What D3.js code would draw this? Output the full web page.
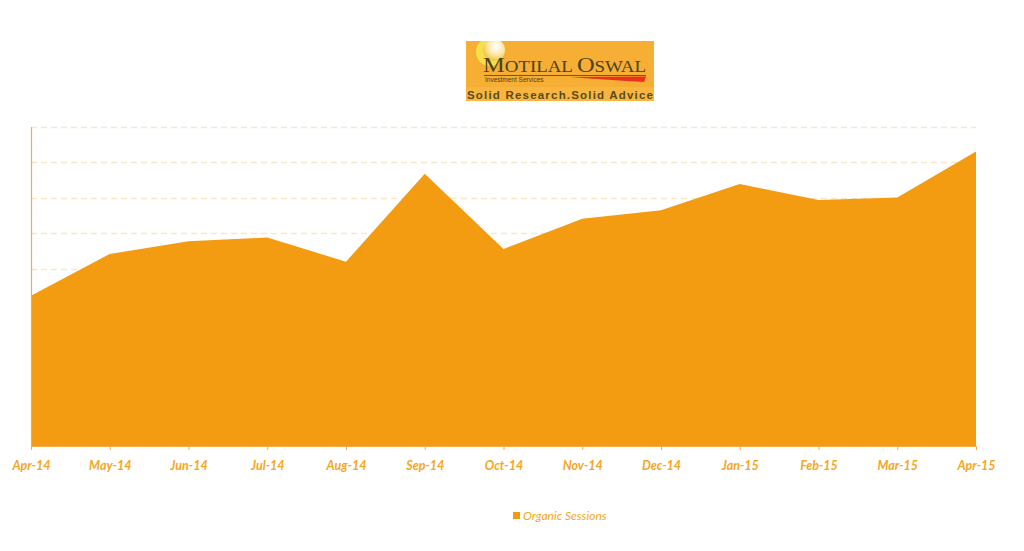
<!DOCTYPE html>
<html>
<head>
<meta charset="utf-8">
<script src="https://cdn.jsdelivr.net/npm/d3@7"></script>
<style>
  html, body { margin: 0; padding: 0; background: #ffffff; }
  svg { display: block; }
</style>
</head>
<body>
<script>
const categories = ["Apr-14","May-14","Jun-14","Jul-14","Aug-14","Sep-14","Oct-14","Nov-14","Dec-14","Jan-15","Feb-15","Mar-15","Apr-15"];
const organicSessions = [4240, 5420, 5780, 5880, 5200, 7680, 5560, 6410, 6650, 7390, 6940, 7010, 8310];
const yTicks = [0, 1000, 2000, 3000, 4000, 5000, 6000, 7000, 8000, 9000];
const seriesName = "Organic Sessions";

const W = 1024, H = 551;
const svg = d3.select("body").append("svg").attr("width", W).attr("height", H);

const x = d3.scalePoint().domain(categories).range([31, 976]);
const y = d3.scaleLinear().domain([0, 9000]).range([446, 127]);

const orange = "#f39c12";
const labelColor = "#f5a623";

// gridlines
svg.append("g").selectAll("line").data(yTicks.filter(d => d > 0)).join("line")
  .attr("x1", 31).attr("x2", 976)
  .attr("y1", d => Math.round(y(d)) + 0.5).attr("y2", d => Math.round(y(d)) + 0.5)
  .attr("stroke", "#fbe7c6").attr("stroke-width", 1.3)
  .attr("stroke-dasharray", "6,4");

// area
const area = d3.area().x((d, i) => x(categories[i])).y0(y(0)).y1(d => y(d));
svg.append("path").datum(organicSessions).attr("d", area).attr("fill", orange);

// left axis line
svg.append("line").attr("x1", 31.5).attr("x2", 31.5).attr("y1", 127).attr("y2", 446)
  .attr("stroke", "#f4ad48").attr("stroke-width", 1.2);

// x axis
const xAxis = svg.append("g").attr("transform", "translate(0,446)")
  .call(d3.axisBottom(x).tickSize(4).tickPadding(11));
xAxis.select(".domain").attr("stroke", "#f4ad48");
xAxis.selectAll(".tick line").attr("stroke", "#f4ad48");
xAxis.selectAll(".tick text")
  .attr("fill", labelColor)
  .attr("font-family", "Lato, 'Open Sans', sans-serif")
  .attr("font-style", "italic").attr("font-weight", "bold")
  .attr("font-size", 12.5);

// legend
const lg = svg.append("g");
lg.append("rect").attr("x", 513).attr("y", 512).attr("width", 7).attr("height", 7).attr("fill", orange);
lg.append("text").attr("x", 523).attr("y", 520).text(seriesName)
  .attr("fill", labelColor)
  .attr("font-family", "Lato, 'Open Sans', sans-serif")
  .attr("font-style", "italic").attr("font-size", 12);

// logo
const logo = svg.append("g");
const defs = svg.append("defs");
const rg = defs.append("radialGradient").attr("id", "globe").attr("cx", "60%").attr("cy", "35%").attr("r", "65%");
rg.append("stop").attr("offset", "0%").attr("stop-color", "#ffffff");
rg.append("stop").attr("offset", "55%").attr("stop-color", "#fde9b0");
rg.append("stop").attr("offset", "100%").attr("stop-color", "#f5c23c");
const clip = defs.append("clipPath").attr("id", "logoclip");
clip.append("rect").attr("x", 466).attr("y", 41).attr("width", 188).attr("height", 60);

logo.append("rect").attr("x", 466).attr("y", 41).attr("width", 188).attr("height", 60).attr("fill", "#f7ae34");
logo.append("rect").attr("x", 466).attr("y", 87).attr("width", 188).attr("height", 14).attr("fill", "#f8b640");
const lgClip = logo.append("g").attr("clip-path", "url(#logoclip)");
lgClip.append("circle").attr("cx", 490).attr("cy", 52).attr("r", 14).attr("fill", "#f3e04a");
lgClip.append("circle").attr("cx", 494).attr("cy", 50).attr("r", 11).attr("fill", "url(#globe)");

const mo = logo.append("text").attr("x", 483).attr("y", 72)
  .attr("font-family", "'Liberation Serif', 'DejaVu Serif', serif")
  .attr("fill", "#4a4220")
  .attr("textLength", 163).attr("lengthAdjust", "spacingAndGlyphs");
mo.append("tspan").attr("font-size", 22).text("M");
mo.append("tspan").attr("font-size", 17).text("OTILAL ");
mo.append("tspan").attr("font-size", 22).text("O");
mo.append("tspan").attr("font-size", 17).text("SWAL");
logo.append("line").attr("x1", 484).attr("x2", 646).attr("y1", 75.5).attr("y2", 75.5)
  .attr("stroke", "#4a4220").attr("stroke-width", 0.8);
logo.append("text").attr("x", 485).attr("y", 82)
  .attr("font-family", "'Liberation Sans', sans-serif")
  .attr("font-size", 6.5).attr("fill", "#4a4220")
  .text("Investment Services");
logo.append("path").attr("d", "M570,77 L646,76.5 L644,82 Q610,80 570,77 Z").attr("fill", "#e8321e");
logo.append("text").attr("x", 467).attr("y", 99)
  .attr("font-family", "'Liberation Sans', Arial, sans-serif")
  .attr("font-size", 11.5).attr("font-weight", "bold").attr("fill", "#5a4a1e")
  .attr("textLength", 186).attr("lengthAdjust", "spacing")
  .text("Solid Research.Solid Advice");
</script>
</body>
</html>
